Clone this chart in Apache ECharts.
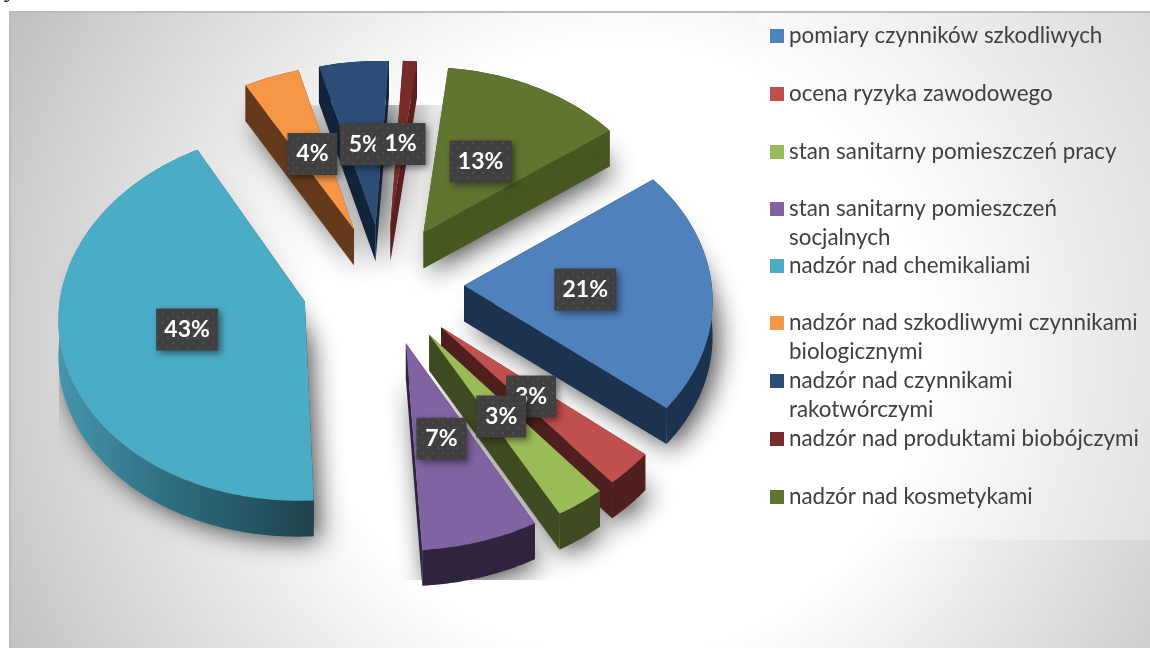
<!DOCTYPE html>
<html><head><meta charset="utf-8">
<style>html,body{margin:0;padding:0;background:#fff}#c{width:1150px;height:648px}</style>
<script src="https://cdn.jsdelivr.net/npm/echarts@6/dist/echarts.min.js"></script>
</head><body><div id="c"></div>
<script>
var categories = ["pomiary czynników szkodliwych","ocena ryzyka zawodowego","stan sanitarny pomieszczeń pracy","stan sanitarny pomieszczeń\nsocjalnych","nadzór nad chemikaliami","nadzór nad szkodliwymi czynnikami\nbiologicznymi","nadzór nad czynnikami\nrakotwórczymi","nadzór nad produktami biobójczymi","nadzór nad kosmetykami"];
var values = [21,3,3,7,43,4,5,1,13];
var topColors = ["#4f81bd","#c0504d","#9bbb59","#8064a2","#4bacc6","#f79646","#2c4d75","#772c2a","#5f7530"];
var sideColors = ["#1c3350","#4f1f1d","#3f4b20","#30233f","#1f444d","#65391b","#12233a","#5a1f1e","#465720"];

var chart = echarts.init(document.getElementById('c'));
var cx=383, cy=284, R=245, T=183, P=0.07, SK=15, TILT=13, EX=0.33, DEPTH=36, START=57.6, LABR=0.49;
var total = values.reduce(function(a,b){return a+b;},0);
function proj(X,Y,z){var w=1+P*Y;return [cx+R*X/w-SK*Y, cy-T*Y/w-TILT*X+(z||0)];}
function geom(i){
  var before=0; for(var k=0;k<i;k++) before+=values[k];
  var a0=START+before/total*360, a1=a0+values[i]/total*360, mid=(a0+a1)/2, rad=Math.PI/180;
  var ox=EX*Math.sin(mid*rad), oy=EX*Math.cos(mid*rad), arc=[], n=Math.max(4,Math.round(a1-a0));
  for(var j=0;j<=n;j++){var t=(a0+(a1-a0)*j/n)*rad;arc.push([ox+Math.sin(t),oy+Math.cos(t)]);}
  return {ox:ox,oy:oy,arc:arc,mid:mid*rad};
}
function poly(pts,style,extra){return Object.assign({type:'polygon',shape:{points:pts},style:style,silent:true},extra||{});}

var OFF=3000;
function renderShadow(params,api){
  var g=geom(params.dataIndex);
  var pts=[proj(g.ox,g.oy,DEPTH)].concat(g.arc.map(function(p){return proj(p[0],p[1],DEPTH);}));
  pts=pts.map(function(p){return [p[0]+6-OFF,p[1]+4];});
  return {type:'group',clipPath:{type:'rect',shape:{x:59,y:105,width:695,height:475}},children:[
    poly(pts,{fill:'#000',shadowBlur:26,shadowOffsetX:OFF,shadowColor:'rgba(0,0,0,0.7)'})]};
}
function renderSlice(params,api){
  var i=params.dataIndex, g=geom(i), col=topColors[i], side=sideColors[i];
  var apex=proj(g.ox,g.oy), apexB=proj(g.ox,g.oy,DEPTH);
  var top=g.arc.map(function(p){return proj(p[0],p[1]);});
  var bot=g.arc.map(function(p){return proj(p[0],p[1],DEPTH);});
  var rimFill=side;
  if(i===4){rimFill=new echarts.graphic.LinearGradient(57,0,310,0,[{offset:0,color:'#4596ae'},{offset:.45,color:'#2f6d80'},{offset:1,color:'#1f444d'}],true);}
  return {type:'group',children:[
    poly([apex,top[0],bot[0],apexB],{fill:side}),
    poly([apex,top[top.length-1],bot[bot.length-1],apexB],{fill:side}),
    poly(top.concat(bot.slice().reverse()),{fill:rimFill}),
    poly([apex].concat(top),{fill:col})
  ]};
}
var pat=document.createElement('canvas');pat.width=10;pat.height=10;
(function(){var c=pat.getContext('2d');c.fillStyle='#404040';c.fillRect(0,0,10,10);c.fillStyle='#4e4e4e';c.fillRect(2,2,2,2);c.fillRect(7,7,2,2);})();
function renderLabel(params,api){
  var i=params.dataIndex, g=geom(i);
  var r=LABR, p=proj(g.ox+r*Math.sin(g.mid),g.oy+r*Math.cos(g.mid));
  var x=p[0], y=p[1]+2, v=api.value(0), hw=v>=10?31:25;
  return {type:'group',children:[
    {type:'rect',silent:true,shape:{x:x-hw,y:y-21,width:hw*2,height:42},style:{fill:{image:pat,repeat:'repeat'},shadowBlur:7,shadowOffsetX:3,shadowOffsetY:3,shadowColor:'rgba(0,0,0,0.45)'}},
    {type:'text',silent:true,x:x,y:y,style:{text:v+'%',fill:'#fff',font:'bold 23px Lato',align:'center',verticalAlign:'middle'}}
  ]};
}
// background and legend
var graphic=[
  {type:'text',x:4,y:-21,style:{text:'y',font:'24px "Liberation Serif"',fill:'#000'},z:5},
  {type:'rect',shape:{x:9,y:11,width:1141,height:637},z:-10,style:{fill:{type:'radial',x:620,y:350,r:700,global:true,colorStops:[{offset:0,color:'#ffffff'},{offset:0.43,color:'#ffffff'},{offset:1,color:'#bfbfbf'}]}}},
  {type:'rect',shape:{x:9,y:11,width:1141,height:2},z:-9,style:{fill:'#bdbdbd'}},
  {type:'rect',shape:{x:9,y:11,width:2,height:637},z:-9,style:{fill:'#bdbdbd'}},
  {type:'rect',shape:{x:758,y:13,width:392,height:527},z:-8,style:{fill:'rgba(255,255,255,0.3)'}}
];
var legendRows=[36,94,152,209,266,323,381,439,497];
categories.forEach(function(name,i){
  var y=legendRows[i];
  graphic.push({type:'rect',shape:{x:770,y:y-7,width:14,height:14},style:{fill:topColors[i]},z:5});
  graphic.push({type:'text',x:789,y:y-14.5,style:{text:name,fill:'#404040',font:'22.4px Lato',lineHeight:29,verticalAlign:'top',align:'left'},z:5});
});
chart.setOption({
  animation:false,
  graphic:graphic,
  series:[
    {type:'custom',name:'shadow',coordinateSystem:'none',z:1,silent:true,data:values,renderItem:renderShadow},
    {type:'custom',name:'slices',coordinateSystem:'none',z:2,silent:true,data:values,renderItem:renderSlice},
    {type:'custom',name:'labels',coordinateSystem:'none',z:3,silent:true,data:values,renderItem:renderLabel}
  ]
});
</script></body></html>
